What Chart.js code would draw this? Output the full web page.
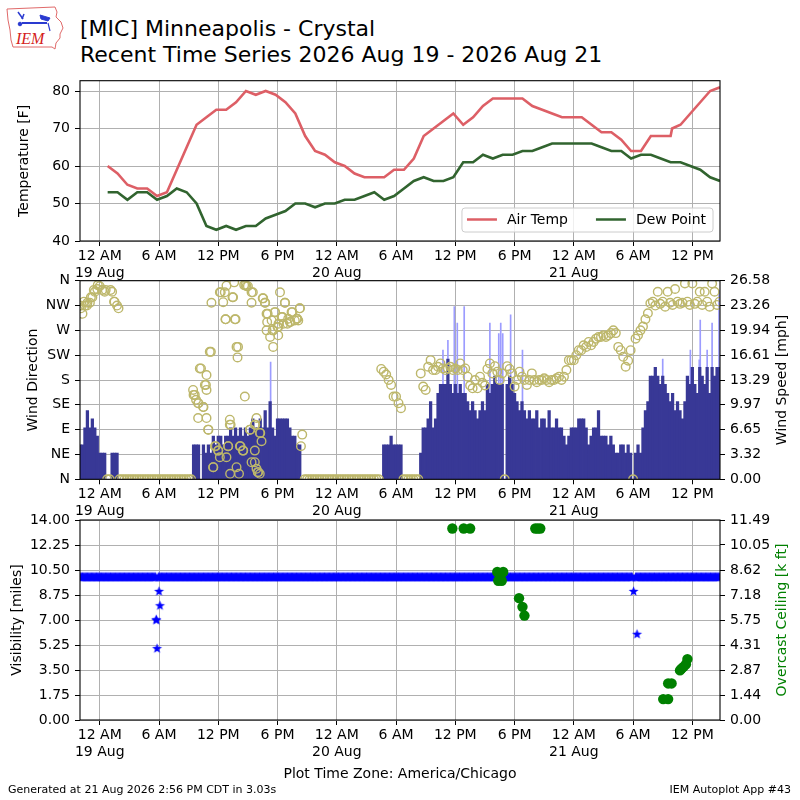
<!DOCTYPE html>
<html>
<head>
<meta charset="utf-8">
<script src="https://cdn.jsdelivr.net/npm/chart.js"></script>
<style>
body { margin: 0; background: #fff; width: 800px; height: 800px; position: relative; overflow: hidden; font-family: 'DejaVu Sans', sans-serif; }
canvas { position: absolute; left: 0; }
.t { position: absolute; white-space: nowrap; color: #000; }
</style>
</head>
<body>
<svg style="position:absolute;left:0;top:0" width="70" height="54" viewBox="0 0 70 54">
  <path d="M7 9 L55 7 L57 12 L56 17 L61 22 L63 28 L60 34 L60 38 L56 43 L55 49 L52 47 L13 47 L11 40 L10 30 L8 20 Z" fill="none" stroke="#e06a6a" stroke-width="1"/>
  <g stroke="#2a3ad0" fill="#2a3ad0">
    <line x1="22" y1="23" x2="47" y2="23" stroke-width="2"/>
    <line x1="18" y1="12" x2="23" y2="19" stroke-width="1.5"/>
    <line x1="24" y1="14" x2="22" y2="19" stroke-width="1.5"/>
    <path d="M40 15 L50 18 L48 21 L41 19 Z"/>
    <circle cx="20" cy="24" r="1.8"/>
    <line x1="48" y1="23" x2="50" y2="31" stroke-width="1.2"/>
  </g>
  <text x="16" y="44" font-family="Liberation Serif" font-style="italic" font-size="16" fill="#d42020">IEM</text>
</svg>
<div class="t" style="left:80px;top:15.5px;font-size:22px;line-height:26.7px">[MIC] Minneapolis - Crystal<br>Recent Time Series 2026 Aug 19 - 2026 Aug 21</div>

<canvas id="grafico-temp" width="800" height="220" style="top:60px"></canvas>
<canvas id="grafico-viento" width="800" height="258" style="top:262px"></canvas>
<canvas id="grafico-vis" width="800" height="298" style="top:502px"></canvas>

<div class="t" style="left:0;width:800px;text-align:center;top:765px;font-size:14px;line-height:16px">Plot Time Zone: America/Chicago</div>
<div class="t" style="left:8px;top:782.7px;font-size:11px;line-height:13px">Generated at 21 Aug 2026 2:56 PM CDT in 3.03s</div>
<div class="t" style="right:9px;top:782.7px;font-size:11px;line-height:13px">IEM Autoplot App #43</div>

<script>
// ---------- Datos (horas desde 19 Aug 00:00) ----------
const xMin = -2.0, xMax = 62.8;
const xTickHours = [0, 6, 12, 18, 24, 30, 36, 42, 48, 54, 60];
const xTickLabels = [['12 AM', '19 Aug'], '6 AM', '12 PM', '6 PM', ['12 AM', '20 Aug'], '6 AM', '12 PM', '6 PM', ['12 AM', '21 Aug'], '6 AM', '12 PM'];

// observaciones horarias (primera a las 00:48)
const hourlyFirst = 0.8;
const airTemp = [60, 58, 55, 54, 54, 52, 53, 59, 65, 71, 73, 75, 75, 77, 80, 79, 80, 79, 77, 74, 68, 64, 63, 61, 60, 58, 57, 57, 57, 59, 59,
  62, 68, 70, 72, 74, 71, 73, 76, 78, 78, 78, 78, 76, 75, 74, 73, 73, 73, 71, 69, 69, 67, 64, 64, 68, 68, 68, 71, 74, 77, 80, 81];
const dewPoint = [53, 53, 51, 53, 53, 51, 52, 54, 53, 50, 44, 43, 44, 43, 44, 44, 46, 47, 48, 50, 50, 49, 50, 50, 51, 51, 52, 53, 51, 52, 54,
  56, 57, 56, 56, 57, 61, 61, 63, 62, 63, 63, 64, 64, 65, 66, 66, 66, 66, 66, 65, 64, 64, 62, 63, 63, 62, 61, 61, 60, 59, 57, 56];
// observacion especial
const specialHour = 57.95, specialTemp = 70, specialDew = 61;
const tempTicks = [40, 50, 60, 70, 80];
const tempMax = 82.75;

// viento cada 15 minutos
const windStart = -2.0;
const windStep = 0.25;
const windSpeed = [
  4.6, 4.6, 6.9, 9.2, 6.9, 8.1, 6.9, 5.8,
  3.5, 3.5, 3.5, 0, 0, 3.5, 3.5, 3.5,
  0, 0, 0, 0, 0, 0, 0, 0, 0, 0, 0, 0, 0, 0, 0, 0, 0, 0, 0, 0, 0, 0, 0, 0, 0, 0, 0, 0,
  0, 0, 4.6, 4.6, 4.6, 0, 4.6, 3.5, 4.6, 3.5, 5.8, 4.6,
  5.8, 5.8, 4.6, 5.8, 5.8, 6.9, 5.8, 6.9, 5.8, 6.9, 5.8, 6.9,
  5.8, 6.9, 8.1, 6.9, 6.9, 8.1, 6.9, 9.2, 6.9, 10.4, 6.9, 5.8,
  8.1, 8.1, 8.1, 8.1, 8.1, 6.9, 5.8, 5.8, 4.6, 4.6, 0, 0,
  0, 0, 0, 0, 0, 0, 0, 0, 0, 0, 0, 0, 0, 0, 0, 0, 0, 0, 0, 0, 0, 0, 0, 0, 0, 0, 0, 0,
  0, 0, 0, 4.6, 4.6, 4.6, 5.8, 4.6, 4.6, 4.6, 4.6, 0, 0, 0, 0, 0,
  0, 0, 3.5, 6.9, 6.9, 8.1, 10.4, 6.9, 8.1, 11.5, 12.7, 12.7,
  12.7, 16.1, 12.7, 11.5, 12.7, 11.5, 12.7, 11.5, 11.5, 10.4, 9.2, 10.4,
  9.2, 8.1, 9.2, 10.4, 9.2, 12.7, 11.5, 12.7, 13.8, 12.7, 12.7, 12.7,
  0, 12.7, 13.8, 12.7, 11.5, 10.4, 9.2, 10.4, 9.2, 8.1, 9.2, 8.1,
  8.1, 9.2, 6.9, 8.1, 8.1, 6.9, 9.2, 6.9, 6.9, 8.1, 6.9, 6.9,
  5.8, 4.6, 5.8, 6.9, 6.9, 6.9, 8.1, 8.1, 8.1, 6.9, 4.6, 5.8,
  6.9, 6.9, 9.2, 5.8, 5.8, 5.8, 4.6, 5.8, 4.6, 3.5, 3.5, 4.6,
  4.6, 3.5, 4.6, 3.5, 0, 3.5, 4.6, 3.5, 6.9, 9.2, 10.4, 13.8,
  13.8, 15.0, 13.8, 12.7, 13.8, 12.7, 11.5, 10.4, 11.5, 9.2, 10.4, 9.2,
  8.1, 10.4, 13.8, 12.7, 15.0, 12.7, 11.5, 15.0, 13.8, 12.7, 15.0, 11.5,
  15.0, 13.8, 15.0, 15.0
];
const windDir = [
  315, 300, 315, 320, 320, 330, 340, 345,
  350, 343, 340, 0, 0, 340, 322, 315,
  0, 0, 0, 0, 0, 0, 0, 0, 0, 0, 0, 0, 0, 0, 0, 0, 0, 0, 0, 0, 0, 0, 0, 0, 0, 0, 0, 0,
  0, 0, 153, 144, 138, 201, 131, 171, 90, 231, 22, 60,
  52, 339, 321, 290, 60, 99, 330, 290, 240, 60, 52, 352,
  350, 90, 339, 99, 13, 84, 328, 320, 300, 258, 270, 303,
  276, 339, 294, 320, 282, 285, 303, 288, 291, 310, 81, 0,
  0, 0, 0, 0, 0, 0, 0, 0, 0, 0, 0, 0, 0, 0, 0, 0, 0, 0, 0, 0, 0, 0, 0, 0, 0, 0, 0, 0,
  0, 0, 200, 195, 190, 180, 171, 150, 150, 138, 129, 0, 0, 0, 0, 0,
  0, 0, 192, 168, 162, 204, 216, 198, 198, 204, 210, 201,
  198, 201, 204, 198, 201, 198, 210, 198, 201, 186, 170, 165,
  180, 165, 186, 175, 170, 200, 210, 192, 205, 195, 180, 192,
  0, 205, 200, 192, 168, 180, 195, 186, 180, 171, 180, 192,
  180, 176, 180, 180, 183, 180, 176, 180, 180, 183, 186, 180,
  186, 198, 216, 216, 216, 225, 234, 234, 243, 240, 249, 243,
  249, 255, 258, 258, 261, 258, 261, 265, 270, 265, 240, 234,
  222, 204, 215, 234, 0, 255, 261, 270, 277, 290, 301, 319,
  322, 315, 340, 318, 322, 313, 340, 320, 316, 345, 322, 318,
  320, 355, 322, 316, 355, 318, 322, 340, 316, 340, 322, 313,
  355, 340, 316, 322
];
// lecturas de direccion entre las de 15 min (viento variable)
const dirExtraHours = [-1.9, -1.6, -1.3, -0.9, -0.6, -0.2, 0.6, 1.1, 1.45, 1.9,
  9.45, 9.62, 9.96, 9.96, 10.13, 10.47, 10.64, 10.81, 10.81, 10.81, 10.98, 11.14, 11.31, 11.48, 11.65, 11.99,
  12.16, 12.16, 12.66, 12.73, 12.83, 12.83, 13.0, 13.17, 13.17, 13.2, 13.44, 13.61, 13.68, 13.85, 13.85, 13.95,
  14.1, 14.19, 14.53, 14.62, 14.69, 14.86, 15.2, 15.37, 15.37, 15.37, 15.7, 15.7, 15.7, 15.87, 15.87, 16.04,
  16.2, 16.21, 16.38, 16.55, 16.72, 16.89, 16.89, 16.95, 17.4, 17.56, 17.56, 17.73, 18.07, 18.07, 18.1, 18.41,
  18.6, 18.75, 19.08, 19.3, 19.42, 19.93, 20.1, 20.26, 20.37];
const dirExtra = [310, 322, 315, 330, 343, 352, 343, 343, 322, 310,
  162, 153, 138, 111, 201, 131, 171, 189, 162, 111, 90, 231, 320, 22, 60, 52,
  339, 40, 339, 290, 351, 40, 60, 108, 99, 10, 330, 357, 290, 240, 22, 221,
  10, 60, 52, 352, 150, 350, 90, 339, 320, 31, 99, 52, 31, 111, 19, 13,
  10, 84, 69, 328, 320, 300, 270, 285, 288, 270, 240, 303, 276, 261, 282, 294,
  282, 320, 291, 285, 303, 291, 288, 310, 60];
// rafagas
const gustHours = [17.3, 34.75, 35.25, 35.9, 36.2, 36.9, 39.5, 40.4, 40.6, 40.8, 41.6, 42.8, 57.0, 59.8, 60.7, 60.8, 61.5, 62.0, 62.7];
const gustSpeed = [15.7, 17.3, 18.6, 23.1, 20.9, 23.1, 20.9, 19.5, 20.9, 19.5, 22.0, 17.3, 16.1, 17.3, 16.0, 21.3, 17.3, 20.9, 25.3];
const dirTickLabels = ['N', 'NE', 'E', 'SE', 'S', 'SW', 'W', 'NW', 'N'];
const speedMax = 26.58;
const speedTickLabels = ['0.00', '3.32', '6.65', '9.97', '13.29', '16.61', '19.94', '23.26', '26.58'];

// visibilidad (millas) cada 5 min y techo (miles de pies)
const visStep = 1 / 12;
const visRuns = [[-2.0, 5.67], [5.92, 54.0], [54.25, 62.8]];
const visRunValue = 10;
const visLowHours = [5.7, 5.75, 5.8, 6.0, 6.1, 54.05, 54.4];
const visLow = [7, 7, 5, 9, 8, 9, 6];
const visMax = 14;
const visTickLabels = ['0.00', '1.75', '3.50', '5.25', '7.00', '8.75', '10.50', '12.25', '14.00'];
const ceilHours = [35.7, 36.85, 37.5, 40.25, 40.35, 40.7, 40.85, 42.45, 42.8, 43.0, 44.1, 44.35, 44.6, 57.05, 57.55, 57.55, 57.9, 58.75, 58.9, 59.1, 59.35, 59.5];
const ceilKft = [11.0, 11.0, 11.0, 8.5, 8.0, 8.0, 8.5, 7.0, 6.5, 6.0, 11.0, 11.0, 11.0, 1.2, 1.2, 2.1, 2.1, 2.85, 2.95, 3.05, 3.2, 3.5];
const ceilMax = 11.49;
const ceilTickLabels = ['0.00', '1.44', '2.87', '4.31', '5.75', '7.18', '8.62', '10.05', '11.49'];

// ---------- Estilo comun ----------
Chart.defaults.font.family = "'DejaVu Sans', sans-serif";
Chart.defaults.color = '#000';
const fuenteTicks = { size: 14 };
const GRIS = '#b0b0b0';

function ejeTiempo(alto) {
    return {
        type: 'linear', min: xMin, max: xMax, offset: false,
        afterBuildTicks: s => { s.ticks = xTickHours.map(v => ({ value: v })); },
        afterFit: s => { s.height = alto; },
        grid: { color: GRIS, lineWidth: 1, tickColor: '#000', tickLength: 5, offset: false },
        border: { display: false },
        ticks: { autoSkip: false, maxRotation: 0, minRotation: 0, padding: 2, font: fuenteTicks, callback: (v, i) => xTickLabels[i] }
    };
}

function ejeY(pos, max, valores, etiquetas, titulo, tituloPad) {
    const eje = {
        type: 'linear', position: pos, min: valores[0], max: max,
        afterBuildTicks: s => { s.ticks = valores.map(v => ({ value: v })); },
        afterFit: s => { s.width = 80; },
        grid: { color: GRIS, lineWidth: 1, tickColor: '#000', tickLength: 5, drawOnChartArea: pos === 'left' },
        border: { display: false },
        ticks: { autoSkip: false, padding: 5, font: fuenteTicks, callback: (v, i) => etiquetas[i] }
    };
    if (titulo) {
        eje.title = { display: true, text: titulo, font: { size: 14 }, padding: { top: tituloPad, bottom: 0 } };
    }
    return eje;
}

// marco negro alrededor del area
const marco = {
    id: 'marco',
    afterDraw(chart) {
        const { ctx, chartArea: a } = chart;
        ctx.save();
        ctx.strokeStyle = '#000';
        ctx.lineWidth = 1.1;
        ctx.strokeRect(a.left, a.top, a.right - a.left, a.bottom - a.top);
        ctx.restore();
    }
};

// titulo del eje derecho (girado como matplotlib)
const tituloDerecho = {
    id: 'tituloDerecho',
    afterDraw(chart, args, opts) {
        if (!opts.text) return;
        const { ctx, chartArea: a } = chart;
        ctx.save();
        ctx.translate(opts.x, (a.top + a.bottom) / 2);
        ctx.rotate(-Math.PI / 2);
        ctx.font = "14px 'DejaVu Sans'";
        ctx.fillStyle = opts.color || '#000';
        ctx.textAlign = 'center';
        ctx.textBaseline = 'middle';
        ctx.fillText(opts.text, 0, 0);
        ctx.restore();
    }
};

// leyenda dentro del grafico (abajo a la derecha)
const leyenda = {
    id: 'leyenda',
    afterDraw(chart, args, opts) {
        if (!opts.display) return;
        const { ctx, chartArea: a } = chart;
        ctx.save();
        ctx.font = "14px 'DejaVu Sans'";
        const items = chart.data.datasets.map(d => ({ label: d.label, color: d.borderColor, w: ctx.measureText(d.label).width }));
        const ancho = 5 + items.reduce((s, it) => s + 40 + it.w, 0) + 28 * (items.length - 1) + 7;
        const alto = 24;
        const x0 = a.right - 7 - ancho;
        const y0 = a.bottom - 9 - alto;
        ctx.fillStyle = 'rgba(255,255,255,0.8)';
        ctx.strokeStyle = '#cccccc';
        ctx.lineWidth = 1;
        ctx.beginPath();
        ctx.roundRect(x0, y0, ancho, alto, 3);
        ctx.fill();
        ctx.stroke();
        let x = x0 + 5;
        const yc = y0 + alto / 2 - 0.5;
        items.forEach(it => {
            ctx.strokeStyle = it.color;
            ctx.lineWidth = 2.5;
            ctx.beginPath();
            ctx.moveTo(x, yc);
            ctx.lineTo(x + 30, yc);
            ctx.stroke();
            ctx.fillStyle = '#000';
            ctx.textAlign = 'left';
            ctx.textBaseline = 'middle';
            ctx.fillText(it.label, x + 40, yc + 1);
            x += 40 + it.w + 28;
        });
        ctx.restore();
    }
};

function hacerEstrella(r, color) {
    const c = document.createElement('canvas');
    const s = Math.ceil(r * 2 + 2);
    c.width = c.height = s;
    const g = c.getContext('2d');
    g.fillStyle = color;
    g.beginPath();
    for (let i = 0; i < 10; i++) {
        const ang = -Math.PI / 2 + i * Math.PI / 5;
        const rr = i % 2 ? r * 0.42 : r;
        g.lineTo(s / 2 + rr * Math.cos(ang), s / 2 + rr * Math.sin(ang));
    }
    g.closePath();
    g.fill();
    return c;
}

const base = { responsive: false, animation: false, devicePixelRatio: 1, events: [] };

// ---------- Grafico 1: temperatura ----------
function renderizarTemperatura() {
    const ctx = document.getElementById('grafico-temp').getContext('2d');
    const horas = airTemp.map((_, k) => hourlyFirst + k);
    const temp = horas.map((h, k) => ({ x: h, y: airTemp[k] }));
    const rocio = horas.map((h, k) => ({ x: h, y: dewPoint[k] }));
    temp.push({ x: specialHour, y: specialTemp });
    rocio.push({ x: specialHour, y: specialDew });
    temp.sort((a, b) => a.x - b.x);
    rocio.sort((a, b) => a.x - b.x);

    new Chart(ctx, {
        type: 'line',
        data: {
            datasets: [
                { label: 'Air Temp', data: temp, borderColor: '#dd5f66', borderWidth: 2.6, pointRadius: 0, tension: 0, clip: 0 },
                { label: 'Dew Point', data: rocio, borderColor: '#31642f', borderWidth: 2.6, pointRadius: 0, tension: 0, clip: 0 }
            ]
        },
        options: {
            ...base,
            layout: { padding: { top: 20.7, right: 80, bottom: 0, left: 0 } },
            plugins: { legend: { display: false }, tooltip: { enabled: false }, leyenda: { display: true } },
            scales: {
                x: ejeTiempo(39),
                y: ejeY('left', tempMax, tempTicks, tempTicks.map(String), 'Temperature [F]', 15.6)
            }
        },
        plugins: [marco, leyenda]
    });
}

// ---------- Grafico 2: viento ----------
function renderizarViento() {
    const ctx = document.getElementById('grafico-viento').getContext('2d');
    const velocidad = windSpeed.map((v, i) => ({ x: windStart + i * windStep, y: v }));
    const direccion = windDir.map((v, i) => ({ x: windStart + i * windStep, y: v }));
    dirExtraHours.forEach((h, i) => direccion.push({ x: h, y: dirExtra[i] }));
    direccion.sort((a, b) => a.x - b.x);
    const rafagas = gustHours.map((h, i) => ({ x: h, y: gustSpeed[i] }));
    const dirValores = dirTickLabels.map((_, i) => i * 45);
    const velValores = speedTickLabels.map((_, i) => speedMax * i / (speedTickLabels.length - 1));

    new Chart(ctx, {
        type: 'line',
        data: {
            datasets: [
                { type: 'line', label: 'Direccion', data: direccion, yAxisID: 'yDir', showLine: false, pointStyle: 'circle',
                  pointRadius: 4.3, pointBorderWidth: 1.4, pointBackgroundColor: 'rgba(0,0,0,0)', pointBorderColor: '#bdb76b', clip: 0, order: 0 },
                { type: 'bar', label: 'Velocidad', data: velocidad, yAxisID: 'ySpd', backgroundColor: '#383896', borderWidth: 0,
                  barThickness: 2.6, grouped: false, order: 1 },
                { type: 'bar', label: 'Rafaga', data: rafagas, yAxisID: 'ySpd', backgroundColor: '#9c9cff', borderWidth: 0,
                  barThickness: 1, grouped: false, order: 2 }
            ]
        },
        options: {
            ...base,
            layout: { padding: { top: 18.7, right: 0, bottom: 0, left: 0 } },
            plugins: { legend: { display: false }, tooltip: { enabled: false }, tituloDerecho: { text: 'Wind Speed [mph]', x: 782.5 } },
            scales: {
                x: ejeTiempo(40.7),
                yDir: ejeY('left', 360, dirValores, dirTickLabels, 'Wind Direction', 24.6),
                ySpd: ejeY('right', speedMax, velValores, speedTickLabels)
            }
        },
        plugins: [marco, tituloDerecho]
    });
}

// ---------- Grafico 3: visibilidad / techo ----------
function renderizarVisibilidad() {
    const ctx = document.getElementById('grafico-vis').getContext('2d');
    const vis = [];
    visRuns.forEach(([a, b]) => {
        for (let h = a; h <= b + 1e-9; h += visStep) vis.push({ x: h, y: visRunValue });
    });
    visLowHours.forEach((h, i) => vis.push({ x: h, y: visLow[i] }));
    const techo = ceilHours.map((h, i) => ({ x: h, y: ceilKft[i] }));
    const visValores = visTickLabels.map((_, i) => visMax * i / (visTickLabels.length - 1));
    const techoValores = ceilTickLabels.map((_, i) => ceilMax * i / (ceilTickLabels.length - 1));

    new Chart(ctx, {
        type: 'line',
        data: {
            datasets: [
                { label: 'Overcast Ceiling', data: techo, yAxisID: 'yTecho', showLine: false, pointStyle: 'circle', pointRadius: 5.2,
                  pointBorderWidth: 0, pointBackgroundColor: '#008000', pointBorderColor: '#008000', clip: 0, order: 0 },
                { label: 'Visibility', data: vis, yAxisID: 'yVis', showLine: false, pointStyle: hacerEstrella(5.2, '#0000ff'),
                  pointRadius: 5, clip: 0, order: 1 }
            ]
        },
        options: {
            ...base,
            layout: { padding: { top: 18, right: 0, bottom: 0, left: 0 } },
            plugins: { legend: { display: false }, tooltip: { enabled: false }, tituloDerecho: { text: 'Overcast Ceiling [k ft]', x: 782.5, color: '#008000' } },
            scales: {
                x: ejeTiempo(80),
                yVis: ejeY('left', visMax, visValores, visTickLabels, 'Visibility [miles]', 9.1),
                yTecho: ejeY('right', ceilMax, techoValores, ceilTickLabels)
            }
        },
        plugins: [marco, tituloDerecho]
    });
}

renderizarTemperatura();
renderizarViento();
renderizarVisibilidad();
</script>
</body>
</html>
